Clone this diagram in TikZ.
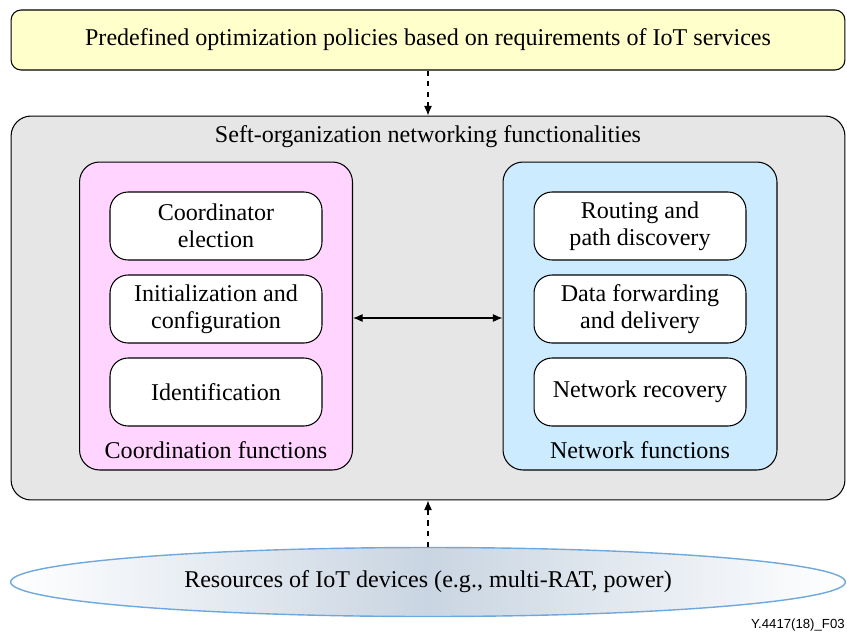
\documentclass[tikz,border=0pt]{standalone}
\usepackage{fontspec}
\setmainfont{Liberation Serif}
\newfontfamily\figfont{Liberation Sans}
\usetikzlibrary{arrows.meta,positioning,shapes.geometric}

\definecolor{policyfill}{HTML}{FFFFCC}
\definecolor{sonfill}{HTML}{E6E6E6}
\definecolor{coordfill}{HTML}{FFD5FF}
\definecolor{netfill}{HTML}{CCEBFF}
\definecolor{resedge}{HTML}{6FA8DC}
\definecolor{resmid}{HTML}{C9D5E2}

\tikzset{
  every node/.style={font=\fontsize{13.7}{15.5}\selectfont},
  outerbox/.style={draw, line width=0.6pt, rounded corners=0.4cm},
  funcbox/.style={draw, fill=white, line width=0.6pt, rounded corners=0.36cm,
    minimum width=4.24cm, minimum height=1.36cm, align=center},
  bothway/.style={{Latex[length=5.5pt,width=4.6pt]}-{Latex[length=5.5pt,width=4.6pt]}, line width=0.6pt},
  dasharrow/.style={-{Latex[length=5.5pt,width=4.6pt]}, dashed, line width=0.6pt},
}

\begin{document}
\begin{tikzpicture}[x=0.02cm,y=-0.02cm]
  \useasboundingbox (0,0) rectangle (847,635);

  % policies on top
  \node[outerbox, fill=policyfill, rounded corners=0.2cm, minimum width=16.68cm,
        minimum height=1.2cm] (policy) at (428,40)
        {Predefined optimization policies based on requirements of IoT services};

  % self-organization block
  \node[outerbox, fill=sonfill, minimum width=16.68cm, minimum height=7.68cm] (son) at (428,308) {};
  \node[anchor=center] (sontitle) at (428,137) {Seft-organization networking functionalities};

  % coordination functions
  \node[outerbox, fill=coordfill, minimum width=5.46cm, minimum height=6.16cm] (coord) at (216,316) {};
  \node[funcbox] (elect) at (216,226) {Coordinator\\election};
  \node[funcbox] (init) at (216,309) {Initialization and\\configuration};
  \node[funcbox] (ident) at (216,392) {Identification};
  \node[anchor=center] (coordlabel) at (216,450) {Coordination functions};

  % network functions
  \node[outerbox, fill=netfill, minimum width=5.48cm, minimum height=6.16cm] (net) at (640,316) {};
  \node[funcbox] (route) at (640,226) {Routing and\\path discovery};
  \node[funcbox] (fwd) at (640,309) {Data forwarding\\and delivery};
  \node[funcbox] (recov) at (640,392) {Network recovery};
  \node[anchor=center] (netlabel) at (640,450) {Network functions};

  \draw[bothway] (coord.east |- 0,318) -- (net.west |- 0,318);

  % resources of IoT devices
  \node[ellipse, draw=resedge, line width=0.8pt, left color=white, right color=white,
        middle color=resmid, minimum width=16.7cm, minimum height=1.38cm, inner sep=0pt] (res) at (428,582)
        {Resources of IoT devices (e.g., multi-RAT, power)};

  \draw[dasharrow] (policy.south) -- (son.north);
  \draw[dasharrow] (res.north) -- (son.south);

  \node[anchor=south east, inner sep=0pt, font=\figfont\fontsize{7.5}{9}\selectfont] (figid) at (845,632) {Y.4417(18)\_F03};
\end{tikzpicture}
\end{document}
